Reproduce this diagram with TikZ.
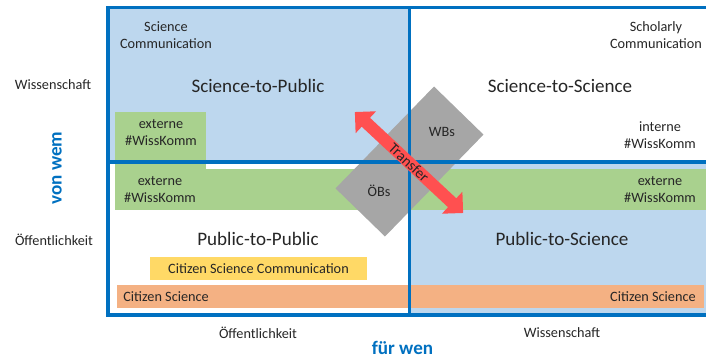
\documentclass[tikz,border=0pt]{standalone}
\usepackage{fontspec}
\setmainfont{Carlito}
\usepackage{tikz}
\usetikzlibrary{shapes.geometric, shapes.arrows, positioning}
\usepackage{xcolor}
\definecolor{QuadBlue}{HTML}{0070C0}
\definecolor{QuadFill}{HTML}{BDD7EE}
\definecolor{BandGreen}{HTML}{A9D18E}
\definecolor{BandOrange}{HTML}{F4B183}
\definecolor{BandYellow}{HTML}{FFD966}
\definecolor{BoxGray}{HTML}{A6A6A6}
\definecolor{ArrowRed}{HTML}{FF5050}
\definecolor{TextGray}{HTML}{262626}

\begin{document}
\begin{tikzpicture}[
    % Global Styles (one unit = one pixel of the reference)
    x=0.75pt, y=-0.75pt,
    font=\fontsize{10.7}{12.8}\selectfont,
    % Styles for the quadrants and labels
    quad/.style={
        draw=QuadBlue,
        line width=2.8pt
    },
    smalltext/.style={
        text=TextGray,
        align=center,
        inner sep=0pt
    },
    bigtext/.style={
        text=TextGray,
        font=\fontsize{14.3}{17}\selectfont,
        inner sep=0pt
    },
    axislabel/.style={
        text=QuadBlue,
        font=\fontsize{14.3}{17}\selectfont\bfseries,
        inner sep=0pt
    },
    graybox/.style={
        rectangle,
        fill=BoxGray,
        minimum width=53.25pt,
        minimum height=51.75pt,
        rotate=45.8,
        inner sep=0pt
    },
    % Transfer arrow style
    transfer/.style={
        double arrow,
        fill=ArrowRed,
        text=TextGray,
        font=\fontsize{11.2}{13}\selectfont,
        rotate=-43,
        minimum height=111pt,
        minimum width=22.5pt,
        double arrow head extend=6pt,
        inner sep=0pt
    }
]
    \useasboundingbox (0,0) rectangle (706,357);
    \clip (0,0) rectangle (706,357);

    % --- Quadrant fills ---
    \fill[QuadFill] (108,7.5) rectangle (409.5,162);
    \fill[QuadFill] (409.5,162) rectangle (712,315);

    % --- Bands ---
    \fill[BandGreen] (115,112) rectangle (206,169);
    \fill[BandGreen] (115,169) rectangle (409.5,210);
    \fill[BandGreen] (409.5,169) rectangle (706,210);
    \fill[BandYellow] (150,257) rectangle (367,280);
    \fill[BandOrange] (117,285) rectangle (409.5,308);
    \fill[BandOrange] (409.5,285) rectangle (704,308);

    % --- Gray boxes ---
    \node[graybox] (wbsbox) at (434,136) {};
    \node[graybox] (obsbox) at (385,187) {};

    % --- Quadrant borders ---
    \draw[quad] (108,7.5) rectangle (409.5,162);
    \draw[quad] (409.5,7.5) rectangle (712,162);
    \draw[quad] (108,162) rectangle (409.5,315);
    \draw[quad] (409.5,162) rectangle (712,315);

    % --- Nodes ---

    % Science-to-Public
    \node[smalltext] (scicomm) at (166,35.5) {Science\\Communication};
    \node[bigtext] (s2p) at (258,86) {Science-to-Public};
    \node[smalltext] (exttl) at (161,133) {externe\\\#WissKomm};

    % Science-to-Science
    \node[smalltext] (scholcomm) at (656,35.5) {Scholarly\\Communication};
    \node[bigtext] (s2s) at (560,86) {Science-to-Science};
    \node[smalltext] (interne) at (660,135) {interne\\\#WissKomm};

    % Public-to-Public
    \node[smalltext] (extbl) at (160,190) {externe\\\#WissKomm};
    \node[bigtext] (p2p) at (258,239) {Public-to-Public};
    \node[smalltext] (csc) at (258.5,268.5) {Citizen Science Communication};
    \node[smalltext, anchor=west] (csleft) at (123,297) {Citizen Science};

    % Public-to-Science
    \node[smalltext] (extbr) at (660,190) {externe\\\#WissKomm};
    \node[bigtext] (p2s) at (562,239) {Public-to-Science};
    \node[smalltext, anchor=east] (csright) at (696,297) {Citizen Science};

    % Gray box labels
    \node[smalltext] (wbs) at (442,132) {WBs};
    \node[smalltext] (obs) at (379,191) {ÖBs};

    % Transfer
    \node[transfer] (transfer) at (409,162.5) {Transfer};

    % --- Axis labels ---
    \node[smalltext] (wissleft) at (53,85) {Wissenschaft};
    \node[smalltext] (oeffleft) at (54,240) {Öffentlichkeit};
    \node[axislabel, rotate=90] (vonwem) at (57,168) {von wem};
    \node[smalltext] (oeffbottom) at (258,333) {Öffentlichkeit};
    \node[smalltext] (wissbottom) at (562,333) {Wissenschaft};
    \node[axislabel, anchor=base] (fuerwen) at (402.5,354.5) {für wen};

\end{tikzpicture}
\end{document}
